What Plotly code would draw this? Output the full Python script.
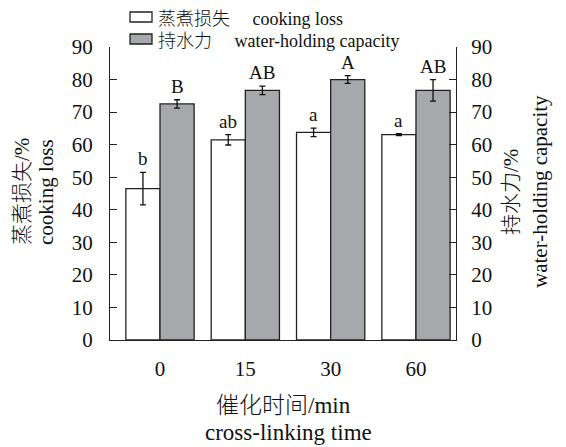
import plotly.graph_objects as go

categories = ["0", "15", "30", "60"]
cooking_loss = [46.5, 61.5, 63.8, 63.1]
cooking_loss_err = [5.0, 1.6, 1.3, 0.3]
cooking_letters = ["b", "ab", "a", "a"]
whc = [72.5, 76.7, 80.0, 76.7]
whc_err = [1.3, 1.3, 1.2, 3.3]
whc_letters = ["B", "AB", "A", "AB"]
y_ticks = [0, 10, 20, 30, 40, 50, 60, 70, 80, 90]
series_names = ["蒸煮损失\u3000 cooking loss", "持水力\u3000 water-holding capacity"]
series_colors = ["white", "#a7a8ab"]

FONT = "Liberation Serif, Noto Sans CJK SC, serif"
SERIF = "Liberation Serif"
INK = "#111"
EDGE = "#222"
# the page has an 8px body margin, so the figure is drawn 8px smaller
OFF = 8
W, H = 566 - OFF, 447 - OFF
L, R, T, B = 102, 110, 39, 107
pw = W - L - R
ph = H - T - B

def px_x(p):  # page pixel -> paper
    return (p - OFF - L) / pw

def px_y(p):
    return (H - B - (p - OFF)) / ph

def f(size, fam=FONT, weight=None):
    d = dict(family=fam, size=size, color=INK)
    if weight:
        d["weight"] = weight
    return d

fig = go.Figure()
fig.add_trace(go.Bar(
    x=categories, y=cooking_loss, name=series_names[0],
    offset=-0.4, width=0.4,
    marker=dict(color=series_colors[0], line=dict(color=EDGE, width=1.3)),
    error_y=dict(type="data", array=cooking_loss_err, color=INK, thickness=1.3, width=3),
))
fig.add_trace(go.Bar(
    x=categories, y=whc, name=series_names[1],
    offset=0.0, width=0.4,
    marker=dict(color=series_colors[1], line=dict(color=EDGE, width=1.3)),
    error_y=dict(type="data", array=whc_err, color=INK, thickness=1.3, width=3),
))
# invisible trace so the right axis is drawn
fig.add_trace(go.Scatter(x=categories, y=whc, yaxis="y2", mode="markers",
                         marker=dict(opacity=0), showlegend=False, hoverinfo="skip"))

annotations = []
for i, c in enumerate(categories):
    annotations.append(dict(x=i - 0.2, y=cooking_loss[i] + cooking_loss_err[i], xref="x", yref="y",
                            text=cooking_letters[i], showarrow=False, yanchor="bottom", yshift=1,
                            font=f(19, SERIF)))
    annotations.append(dict(x=i + 0.2, y=whc[i] + whc_err[i], xref="x", yref="y",
                            text=whc_letters[i], showarrow=False, yanchor="bottom", yshift=1,
                            font=f(19, SERIF)))

# legend drawn by hand (symbol boxes + labels)
shapes = []
legend_rows = [17, 39]
for name, color, yc in zip(series_names, series_colors, legend_rows):
    shapes.append(dict(type="rect", xref="paper", yref="paper",
                       x0=px_x(130), x1=px_x(152), y0=px_y(yc - 5), y1=px_y(yc + 5),
                       fillcolor=color, line=dict(color=EDGE, width=1.3)))
    annotations.append(dict(x=px_x(156), y=px_y(yc + 2), xref="paper", yref="paper", text=name,
                            showarrow=False, xanchor="left", yanchor="middle", font=f(18, weight=300)))

annotations += [
    dict(x=px_x(283), y=px_y(405), xref="paper", yref="paper", text="催化时间/min", showarrow=False,
         xanchor="center", yanchor="middle", font=f(23, weight=300)),
    dict(x=px_x(288), y=px_y(432), xref="paper", yref="paper", text="cross-linking time", showarrow=False,
         xanchor="center", yanchor="middle", font=f(23, SERIF)),
    dict(x=px_x(22), y=px_y(192), xref="paper", yref="paper", text="蒸煮损失/%", showarrow=False,
         textangle=-90, xanchor="center", yanchor="middle", font=f(21, weight=300)),
    dict(x=px_x(46), y=px_y(192), xref="paper", yref="paper", text="cooking loss", showarrow=False,
         textangle=-90, xanchor="center", yanchor="middle", font=f(21, SERIF)),
    dict(x=px_x(511), y=px_y(192), xref="paper", yref="paper", text="持水力/%", showarrow=False,
         textangle=-90, xanchor="center", yanchor="middle", font=f(21, weight=300)),
    dict(x=px_x(540), y=px_y(192), xref="paper", yref="paper", text="water-holding capacity", showarrow=False,
         textangle=-90, xanchor="center", yanchor="middle", font=f(21, SERIF)),
]

fig.update_layout(
    width=W, height=H,
    margin=dict(l=L, r=R, t=T, b=B, pad=0, autoexpand=False),
    paper_bgcolor="white", plot_bgcolor="white",
    font=f(20),
    barmode="overlay",
    showlegend=False,
    xaxis=dict(type="category", range=[-0.586, 3.469], showline=True, linecolor=EDGE, linewidth=1.3,
               ticks="", showgrid=False, zeroline=False, tickfont=f(21, SERIF), ticklabelstandoff=10),
    yaxis=dict(range=[0, 90], tickvals=y_ticks, showline=True, linecolor=EDGE, linewidth=1.3,
               ticks="inside", ticklen=7, tickwidth=1.3, tickcolor=EDGE, showgrid=False, zeroline=False,
               tickfont=f(21, SERIF), ticklabelstandoff=12),
    yaxis2=dict(range=[0, 90], tickvals=y_ticks, overlaying="y", side="right", anchor="x",
                showline=True, linecolor=EDGE, linewidth=1.3,
                ticks="inside", ticklen=7, tickwidth=1.3, tickcolor=EDGE, showgrid=False, zeroline=False,
                tickfont=f(21, SERIF), ticklabelstandoff=10),
    annotations=annotations,
    shapes=shapes,
)

fig.write_html("out.html")
